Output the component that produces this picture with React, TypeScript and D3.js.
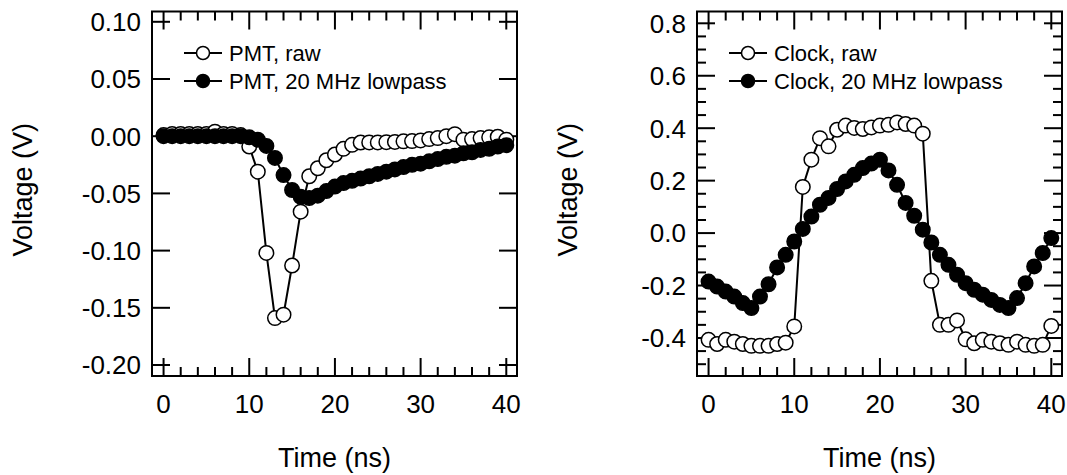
import React from 'react';
import * as d3 from 'd3';

// time axis, 1 ns steps
const time = d3.range(0, 41);

const pmtRaw = [
  0.001, 0.002, 0.002, 0.002, 0.002, 0.002, 0.004, 0.002, 0.002, 0.001,
  -0.009, -0.031, -0.102, -0.159, -0.156, -0.113, -0.066, -0.035, -0.028, -0.021,
  -0.016, -0.011, -0.0075, -0.0055, -0.0054, -0.0054, -0.0052, -0.005, -0.0045, -0.0043,
  -0.0037, -0.0025, -0.0016, 0.0, 0.0018, -0.003, -0.0025, -0.0016, -0.001, -0.0005,
  -0.003,
];
const pmtLowpass = [
  0.0, 0.0, 0.0, 0.0, 0.0, 0.0, 0.0, 0.0, 0.0, 0.0,
  -0.001, -0.003, -0.0085, -0.019, -0.034, -0.047, -0.053, -0.054, -0.052, -0.048,
  -0.044, -0.041, -0.039, -0.037, -0.035, -0.033, -0.031, -0.029, -0.027, -0.025,
  -0.024, -0.022, -0.02, -0.018, -0.017, -0.015, -0.014, -0.012, -0.011, -0.009,
  -0.0078,
];
const clockRaw = [
  -0.407, -0.423, -0.407, -0.414, -0.423, -0.43, -0.43, -0.43, -0.423, -0.418,
  -0.356, 0.176, 0.28, 0.362, 0.331, 0.394, 0.41, 0.401, 0.397, 0.403,
  0.41, 0.413, 0.422, 0.416, 0.41, 0.379, -0.182, -0.35, -0.35, -0.333,
  -0.405, -0.42, -0.407, -0.414, -0.42, -0.426, -0.414, -0.426, -0.43, -0.426,
  -0.354,
];
const clockLowpass = [
  -0.185, -0.204, -0.223, -0.242, -0.267, -0.286, -0.242, -0.195, -0.131, -0.083,
  -0.032, 0.016, 0.063, 0.108, 0.134, 0.168, 0.197, 0.222, 0.248, 0.265,
  0.28, 0.239, 0.184, 0.115, 0.066, 0.013, -0.036, -0.083, -0.121, -0.159,
  -0.191, -0.216, -0.235, -0.255, -0.274, -0.286, -0.248, -0.191, -0.127, -0.076,
  -0.019,
];

const xMajor = [0, 10, 20, 30, 40];
const xMinor = [2, 4, 6, 8, 12, 14, 16, 18, 22, 24, 26, 28, 32, 34, 36, 38];
const pmtYMajor = [-0.2, -0.15, -0.1, -0.05, 0, 0.05, 0.1];
const pmtYLabels = ['-0.20', '-0.15', '-0.10', '-0.05', '0.00', '0.05', '0.10'];
const clockYMajor = [-0.4, -0.2, 0, 0.2, 0.4, 0.6, 0.8];
const clockYLabels = ['-0.4', '-0.2', '0.0', '0.2', '0.4', '0.6', '0.8'];
const clockYMinor = [-0.5, -0.45, -0.35, -0.3, -0.25, -0.15, -0.1, -0.05, 0.05, 0.1, 0.15, 0.25, 0.3, 0.35, 0.45, 0.5, 0.55, 0.65, 0.7, 0.75];

const FONT = "'Liberation Sans', Arial, Helvetica, sans-serif";
const TOP = 11.5;
const BOTTOM = 376;
const W = 365;
const MAJ = 18;
const MIN = 9;

type PanelProps = {
  left: number;
  yDomain: [number, number];
  yMajor: number[];
  yLabels: string[];
  yMinor: number[];
  raw: number[];
  lowpass: number[];
  names: [string, string];
};

const Panel = ({ left, yDomain, yMajor, yLabels, yMinor, raw, lowpass, names }: PanelProps) => {
  const right = left + W;
  const x = d3.scaleLinear().domain([-1.35, 41.25]).range([left, right]);
  const y = d3.scaleLinear().domain(yDomain).range([BOTTOM, TOP]);

  const line = d3.line<number>()
    .x((d, i) => x(time[i]))
    .y(d => y(d));

  const tk = { stroke: '#000', strokeWidth: 2 };

  return (
    <g>
      {/* x ticks, bottom and top */}
      {xMajor.map(t => (
        <g key={'xm' + t}>
          <line x1={x(t)} x2={x(t)} y1={BOTTOM} y2={BOTTOM - MAJ} {...tk} />
          <line x1={x(t)} x2={x(t)} y1={TOP} y2={TOP + MAJ} {...tk} />
          <text x={x(t)} y={413} textAnchor="middle" fontSize={26} fontFamily={FONT}>{t}</text>
        </g>
      ))}
      {xMinor.map(t => (
        <g key={'xn' + t}>
          <line x1={x(t)} x2={x(t)} y1={BOTTOM} y2={BOTTOM - MIN} {...tk} />
          <line x1={x(t)} x2={x(t)} y1={TOP} y2={TOP + MIN} {...tk} />
        </g>
      ))}
      {/* y ticks, left and right */}
      {yMajor.map((t, i) => (
        <g key={'ym' + i}>
          <line x1={left} x2={left + MAJ} y1={y(t)} y2={y(t)} {...tk} />
          <line x1={right} x2={right - MAJ} y1={y(t)} y2={y(t)} {...tk} />
          <text x={left - 11} y={y(t)} dy="0.36em" textAnchor="end" fontSize={26} fontFamily={FONT}>{yLabels[i]}</text>
        </g>
      ))}
      {yMinor.map((t, i) => (
        <g key={'yn' + i}>
          <line x1={left} x2={left + MIN} y1={y(t)} y2={y(t)} {...tk} />
          <line x1={right} x2={right - MIN} y1={y(t)} y2={y(t)} {...tk} />
        </g>
      ))}
      <rect x={left} y={TOP} width={W} height={BOTTOM - TOP} fill="none" stroke="#000" strokeWidth={2} />

      {/* raw series */}
      <path d={line(raw) || ''} fill="none" stroke="#000" strokeWidth={2} />
      {raw.map((d, i) => (
        <circle key={'r' + i} cx={x(time[i])} cy={y(d)} r={7.25} fill="#fff" stroke="#000" strokeWidth={1.5} />
      ))}
      {/* lowpass series */}
      <path d={line(lowpass) || ''} fill="none" stroke="#000" strokeWidth={2} />
      {lowpass.map((d, i) => (
        <circle key={'l' + i} cx={x(time[i])} cy={y(d)} r={7.25} fill="#000" stroke="#000" strokeWidth={1.5} />
      ))}

      {/* legend */}
      {names.map((n, i) => {
        const ly = 53 + i * 28;
        return (
          <g key={'lg' + i}>
            <line x1={left + 32} x2={left + 70} y1={ly} y2={ly} stroke="#000" strokeWidth={2} />
            <circle cx={left + 51} cy={ly} r={6.5} fill={i === 0 ? '#fff' : '#000'} stroke="#000" strokeWidth={1.5} />
            <text x={left + 77} y={ly} dy="0.36em" fontSize={22} fontFamily={FONT}>{n}</text>
          </g>
        );
      })}

      {/* axis titles */}
      <text x={(left + right) / 2} y={466.5} textAnchor="middle" fontSize={27} fontFamily={FONT}>Time (ns)</text>
      <text transform={`translate(${left - 120},${(TOP + BOTTOM) / 2 - 4}) rotate(-90)`} textAnchor="middle" fontSize={27} fontFamily={FONT}>Voltage (V)</text>
    </g>
  );
};

export default function App() {
  return (
    <svg width={1067} height={475} style={{ position: 'absolute', left: 0, top: 0, background: '#fff' }}>
      <Panel
        left={152}
        yDomain={[-0.2096, 0.109]}
        yMajor={pmtYMajor}
        yLabels={pmtYLabels}
        yMinor={[]}
        raw={pmtRaw}
        lowpass={pmtLowpass}
        names={['PMT, raw', 'PMT, 20 MHz lowpass']}
      />
      <Panel
        left={697}
        yDomain={[-0.545, 0.845]}
        yMajor={clockYMajor}
        yLabels={clockYLabels}
        yMinor={clockYMinor}
        raw={clockRaw}
        lowpass={clockLowpass}
        names={['Clock, raw', 'Clock, 20 MHz lowpass']}
      />
    </svg>
  );
}
